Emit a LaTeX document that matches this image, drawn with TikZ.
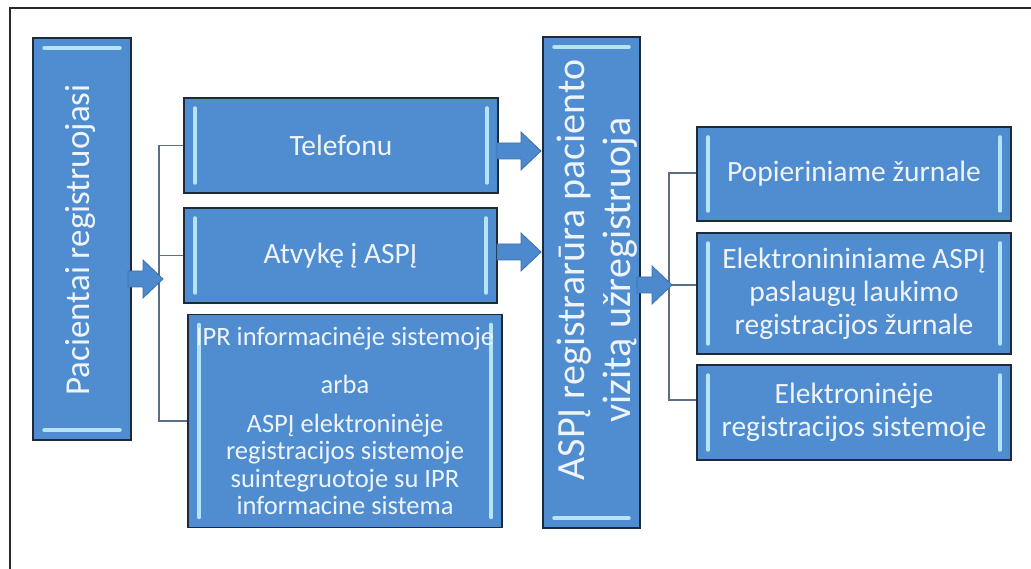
\documentclass[tikz,border=0pt]{standalone}
\usepackage{fontspec}
\setmainfont{Carlito}
\usetikzlibrary{calc}
\definecolor{boxblue}{HTML}{508CD0}
\definecolor{boxline}{HTML}{1E2A38}
\definecolor{hlcol}{HTML}{B5E3F7}
\definecolor{txtcol}{HTML}{EEF4FA}
\definecolor{conncol}{HTML}{5B6E86}
\definecolor{arrfill}{HTML}{4C8ACD}
\definecolor{arrline}{HTML}{3C70AC}
\definecolor{framecol}{HTML}{2A2A2A}
\tikzset{
  hlline/.style={draw=hlcol, line width=3.5pt, line cap=round},
  basebox/.style={draw=boxline, line width=1.6pt, fill=boxblue, text=txtcol, align=center, inner sep=0pt},
  hbox/.style={basebox, path picture={
    \draw[hlline] ([xshift=11pt,yshift=-10pt]path picture bounding box.north west) -- ([xshift=11pt,yshift=10pt]path picture bounding box.south west);
    \draw[hlline] ([xshift=-11pt,yshift=-10pt]path picture bounding box.north east) -- ([xshift=-11pt,yshift=10pt]path picture bounding box.south east);}},
  vbox/.style={basebox, path picture={
    \draw[hlline] ([xshift=11pt,yshift=-10pt]path picture bounding box.north west) -- ([xshift=-11pt,yshift=-10pt]path picture bounding box.north east);
    \draw[hlline] ([xshift=11pt,yshift=10pt]path picture bounding box.south west) -- ([xshift=-11pt,yshift=10pt]path picture bounding box.south east);}},
  vtext/.style={text=txtcol, align=center, rotate=90, inner sep=0pt},
  connector/.style={draw=conncol, line width=1.5pt},
  blockarr/.style={fill=arrfill, draw=arrline, line width=0.8pt, line join=miter},
  framestyle/.style={draw=framecol, line width=1.6pt},
  bigfont/.style={font=\fontsize{29.5}{33}\selectfont},
  smallfont/.style={font=\fontsize{26.5}{27.5}\selectfont}
}
\newcommand{\blockarrow}[2]{%
  \path[blockarr] let \p1=(#1), \p2=(#2) in
    (\x1,\y1+8pt) -- (\x2-20pt,\y1+8pt) -- (\x2-20pt,\y1+19pt) -- (\x2,\y1) --
    (\x2-20pt,\y1-19pt) -- (\x2-20pt,\y1-8pt) -- (\x1,\y1-8pt) -- cycle;}
\begin{document}
\begin{tikzpicture}[x=1pt,y=-1pt]
\useasboundingbox (0,0) rectangle (1031,569);
\draw[framestyle] (10,569) -- (10,8) -- (1031,8);

% left tall box
\node[vbox, minimum width=98pt, minimum height=402pt] (P) at (82,239) {};
\node[vtext, font=\fontsize{35}{40}\selectfont] (Ptext) at (80,240) {Pacientai registruojasi};

% left column boxes
\node[hbox, bigfont, minimum width=314pt, minimum height=95pt] (Tel) at (341,145.5) {Telefonu};
\node[hbox, bigfont, minimum width=313pt, minimum height=95pt] (Atv) at (340.5,255.5) {Atvykę į ASPĮ};
\node[hbox, smallfont, minimum width=314pt, minimum height=213pt] (IPR) at (345,421)
  {IPR informacinėje sistemoje\\[21pt]arba\\[11pt]ASPĮ elektroninėje\\registracijos sistemoje\\suintegruotoje su IPR\\informacine sistema};

% middle tall box
\node[vbox, minimum width=97pt, minimum height=491pt] (M) at (591.5,282.5) {};
\node[vtext, font=\fontsize{40}{46}\selectfont] (Mtext) at (597,270) {ASPĮ registrarūra paciento\\vizitą užregistruoja};

% right column boxes
\node[hbox, bigfont, minimum width=314pt, minimum height=94pt] (R1) at (854,174) {Popieriniame žurnale};
\node[hbox, bigfont, minimum width=314pt, minimum height=121pt] (R2) at (854,293.5) {Elektronininiame ASPĮ\\paslaugų laukimo\\registracijos žurnale};
\node[hbox, bigfont, minimum width=314pt, minimum height=95pt] (R3) at (854,412.5) {Elektroninėje\\registracijos sistemoje};

% left bracket
\coordinate (lbx) at (159,0);
\draw[connector] (Tel.west) -| (lbx |- IPR.west) -- (IPR.west);
\draw[connector] (Atv.west) -- (lbx |- Atv.west);

% right bracket
\coordinate (rs1) at (669,173);
\coordinate (rs2) at (669,285);
\coordinate (rs3) at (669,400);
\draw[connector] (R1.west |- rs1) -- (rs1) -- (rs3) -- (R3.west |- rs3);
\draw[connector] (rs2) -- (R2.west |- rs2);

% block arrows
\coordinate (a1s) at (128,279);
\coordinate (a1e) at (163,279);
\coordinate (a2s) at (497,151);
\coordinate (a2e) at (541,151);
\coordinate (a3s) at (497,252);
\coordinate (a3e) at (541,252);
\coordinate (a4s) at (637,285);
\coordinate (a4e) at (672,285);
\blockarrow{a1s}{a1e}
\blockarrow{a2s}{a2e}
\blockarrow{a3s}{a3e}
\blockarrow{a4s}{a4e}
\end{tikzpicture}
\end{document}
